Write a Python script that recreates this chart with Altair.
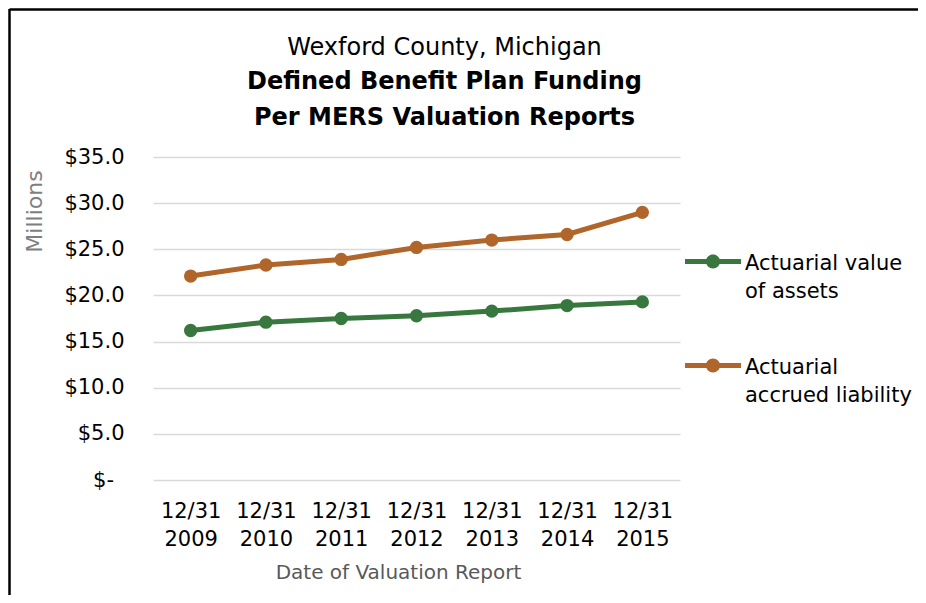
import altair as alt
import pandas as pd

dates = ["12/31 2009", "12/31 2010", "12/31 2011", "12/31 2012",
         "12/31 2013", "12/31 2014", "12/31 2015"]
assets = [16.2, 17.1, 17.5, 17.8, 18.3, 18.9, 19.3]
liability = [22.1, 23.3, 23.9, 25.2, 26.0, 26.6, 29.0]
series = ["Actuarial value of assets", "Actuarial accrued liability"]
colors = ["#38783f", "#b0652a"]
y_ticks = [0, 5, 10, 15, 20, 25, 30, 35]

rows = []
for d, a, l in zip(dates, assets, liability):
    rows.append({"date": d, "series": series[0], "value": a})
    rows.append({"date": d, "series": series[1], "value": l})
df = pd.DataFrame(rows)

FONT = "DejaVu Sans"
W, H = 527, 323

sym = ("M-1,-0.39 L-0.15,-0.39 L-0.15,-0.21 L-1,-0.21 Z "
       "M0.15,-0.39 L1,-0.39 L1,-0.21 L0.15,-0.21 Z "
       "M-0.25,-0.3 A0.25,0.25 0 1,1 0.25,-0.3 A0.25,0.25 0 1,1 -0.25,-0.3 Z")

color = alt.Color(
    "series:N",
    sort=series,
    scale=alt.Scale(domain=series, range=colors),
    legend=alt.Legend(
        title=None, orient="none", legendX=532, legendY=85,
        symbolType=sym, symbolSize=3136, symbolStrokeWidth=0,
        labelFont=FONT, labelFontSize=21, labelColor="#000000",
        labelBaseline="alphabetic", labelOffset=4,
        labelLimit=400, rowPadding=44,
        labelExpr="datum.label == 'Actuarial value of assets' ? ['Actuarial value', 'of assets'] : ['Actuarial', 'accrued liability']",
    ),
)

x = alt.X(
    "date:N", sort=dates,
    scale=alt.Scale(type="point", padding=0.5),
    axis=alt.Axis(
        title="Date of Valuation Report", labelAngle=0,
        labelExpr="split(datum.label, ' ')", labelLineHeight=28,
        labelFont=FONT, labelFontSize=21, labelColor="#000000",
        labelPadding=20, domain=False, ticks=False, grid=False,
        titleFont=FONT, titleFontSize=20, titleFontWeight="normal",
        titleColor="#595959", titleX=245, titleY=98,
        titleBaseline="alphabetic", titleAlign="center",
    ),
)

y = alt.Y(
    "value:Q",
    scale=alt.Scale(domain=[0, 35], nice=False, zero=True),
    axis=alt.Axis(
        values=y_ticks, title="Millions",
        labelExpr="datum.value == 0 ? '$-\u2002\u2060' : '$' + format(datum.value, '.1f')",
        labelFont=FONT, labelFontSize=21, labelColor="#000000",
        labelPadding=29, domain=False, ticks=False,
        grid=True, gridColor="#d9d9d9", gridWidth=1.5,
        titleFont=FONT, titleFontSize=22, titleFontWeight="normal",
        titleColor="#7f7f7f", titleX=-119, titleY=54,
        titleAlign="center", titleBaseline="middle", titleAngle=-90,
    ),
)

points = alt.Chart(df).mark_point(filled=True, size=177, opacity=1).encode(
    x=x, y=y, color=color)
lines = alt.Chart(df).mark_line(strokeWidth=5).encode(
    x=x, y=y, color=alt.Color("series:N", sort=series,
                              scale=alt.Scale(domain=series, range=colors)))

frame_data = alt.Data(values=[{"k": 1}])
left_border = alt.Chart(frame_data).mark_rule(color="#000000", strokeWidth=2.5).encode(
    x=alt.value(-143.5), y=alt.value(-148), y2=alt.value(H + 200))
top_border = alt.Chart(frame_data).mark_rule(color="#000000", strokeWidth=2.5).encode(
    x=alt.value(-143.5), x2=alt.value(W + 300), y=alt.value(-147.5))

chart = alt.layer(points, lines, left_border, top_border).properties(
    width=W, height=H,
    padding={"left": 145, "top": 149, "right": 238, "bottom": 115},
    autosize=alt.AutoSizeParams(type="none"),
    background="#ffffff",
    title=alt.TitleParams(
        text="Wexford County, Michigan",
        subtitle=["Defined Benefit Plan Funding", "Per MERS Valuation Reports"],
        font=FONT, fontSize=24, fontWeight="normal", color="#000000",
        subtitleFont=FONT, subtitleFontSize=24, subtitleFontWeight="bold",
        subtitleColor="#000000", subtitleLineHeight=36, subtitlePadding=10,
        anchor="middle", dx=28, offset=-122,
    ),
).configure(
    style={"guide-label": {"lineHeight": 28}},
    view=alt.ViewConfig(stroke=None),
)

chart.save("out.html", embed_options={"renderer": "svg", "actions": False})
